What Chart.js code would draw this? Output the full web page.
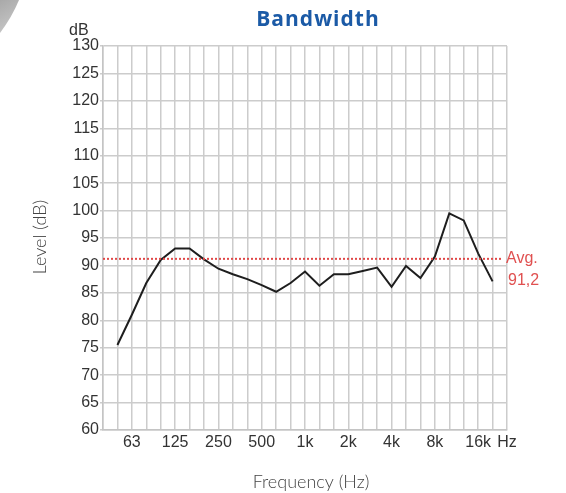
<!DOCTYPE html>
<html><head><meta charset="utf-8">
<script src="https://cdn.jsdelivr.net/npm/chart.js@4/dist/chart.umd.min.js"></script>
<style>html,body{margin:0;padding:0;background:#fff;}#wrap{position:relative;width:566px;height:493px;}</style>
</head><body><div id="wrap"><canvas id="c" width="566" height="493"></canvas></div>
<script>
// One-third-octave band positions along the x axis
const bands = ['40','50','63','80','100','125','160','200','250','315','400','500','630','800','1k','1.25k','1.6k','2k','2.5k','3.15k','4k','5k','6.3k','8k','10k','12.5k','16k','20k','25k'];
// Which bands carry a visible tick label, and its text
const tickLabels = {'63':'63','125':'125','250':'250','500':'500','1k':'1k','2k':'2k','4k':'4k','8k':'8k','16k':'16k','25k':'Hz'};
// Measured level (dB) per band
const levels = [null,75.5,81.0,86.8,91.0,93.1,93.1,91.1,89.4,88.4,87.5,86.4,85.2,86.8,88.9,86.3,88.4,88.4,89.0,89.6,86.1,89.9,87.7,91.6,99.5,98.2,92.2,87.1,null];
const avgLevel = 91.2;
const avgText = ['Avg.', '91,2'];
const yMin = 60, yMax = 130, yStep = 5;
const titleText = 'Bandwidth';
const yUnitText = 'dB';
const yTitle = 'Level (dB)';
const xTitle = 'Frequency (Hz)';

const decor = {
  id: 'decor',
  beforeDraw(chart) {
    const ctx = chart.ctx;
    ctx.save();
    ctx.fillStyle = '#ffffff';
    ctx.fillRect(0, 0, chart.width, chart.height);
    const g = ctx.createLinearGradient(0, 0, 18, 30);
    g.addColorStop(0, '#a9a9a9');
    g.addColorStop(1, '#c9c9c9');
    ctx.fillStyle = g;
    ctx.beginPath();
    ctx.moveTo(0, 0);
    ctx.lineTo(19, 0);
    ctx.quadraticCurveTo(12, 17, 0, 33);
    ctx.closePath();
    ctx.fill();
    ctx.restore();
  },
  afterDatasetsDraw(chart) {
    const ctx = chart.ctx, area = chart.chartArea;
    const ys = chart.scales.y;
    const yAvg = ys.getPixelForValue(avgLevel);
    ctx.save();
    ctx.strokeStyle = '#e04848';
    ctx.lineWidth = 2;
    ctx.setLineDash([2, 2]);
    ctx.beginPath();
    ctx.moveTo(area.left, yAvg);
    ctx.lineTo(area.right - 6, yAvg);
    ctx.stroke();
    ctx.setLineDash([]);
    ctx.fillStyle = '#e05050';
    ctx.font = '16px "Liberation Sans", Arial, sans-serif';
    ctx.textAlign = 'left';
    ctx.textBaseline = 'middle';
    ctx.fillText(avgText[0], area.right - 1, yAvg);
    ctx.fillText(avgText[1], area.right + 1, yAvg + 22);
    ctx.restore();
  },
  afterDraw(chart) {
    const ctx = chart.ctx;
    ctx.save();
    ctx.fillStyle = '#1b5aa6';
    ctx.font = 'bold 21px "Open Sans", sans-serif';
    ctx.letterSpacing = '1px';
    ctx.textAlign = 'center';
    ctx.textBaseline = 'middle';
    ctx.fillText(titleText, 318, 20);
    ctx.letterSpacing = '0px';
    ctx.fillStyle = '#333333';
    ctx.font = '16px "Liberation Sans", Arial, sans-serif';
    ctx.textAlign = 'left';
    ctx.fillText(yUnitText, 69, 31);
    ctx.fillStyle = '#444444';
    ctx.font = '300 18px Lato, sans-serif';
    ctx.textAlign = 'center';
    ctx.fillText(xTitle, 311, 482);
    ctx.translate(40, 237);
    ctx.rotate(-Math.PI / 2);
    ctx.fillText(yTitle, 0, 0);
    ctx.restore();
  }
};

new Chart(document.getElementById('c'), {
  type: 'line',
  data: {
    labels: bands,
    datasets: [{
      data: levels,
      borderColor: '#1e1e1e',
      borderWidth: 2,
      pointRadius: 0,
      tension: 0,
      spanGaps: false
    }]
  },
  options: {
    responsive: false,
    animation: false,
    layout: { padding: { left: 0, right: 59, top: 46, bottom: 0 } },
    plugins: { legend: { display: false }, tooltip: { enabled: false } },
    scales: {
      x: {
        type: 'category',
        offset: false,
        afterFit(s) { s.height = 63; },
        grid: { color: '#cccccc', lineWidth: 1.5, drawTicks: false },
        border: { color: '#c4c4c4', width: 1.5 },
        ticks: {
          autoSkip: false, maxRotation: 0, minRotation: 0, padding: 3,
          color: '#333333',
          font: { family: '"Liberation Sans", Arial, sans-serif', size: 16 },
          callback(v) { const b = bands[v]; return tickLabels[b] || ''; }
        }
      },
      y: {
        min: yMin, max: yMax,
        afterFit(s) { s.width = 103; },
        grid: { color: '#cccccc', lineWidth: 1.5, drawTicks: true, tickLength: 3 },
        border: { color: '#c4c4c4', width: 1.5 },
        ticks: {
          stepSize: yStep, padding: 1, color: '#333333',
          font: { family: '"Liberation Sans", Arial, sans-serif', size: 16 }
        }
      }
    }
  },
  plugins: [decor]
});
</script>
</body></html>
